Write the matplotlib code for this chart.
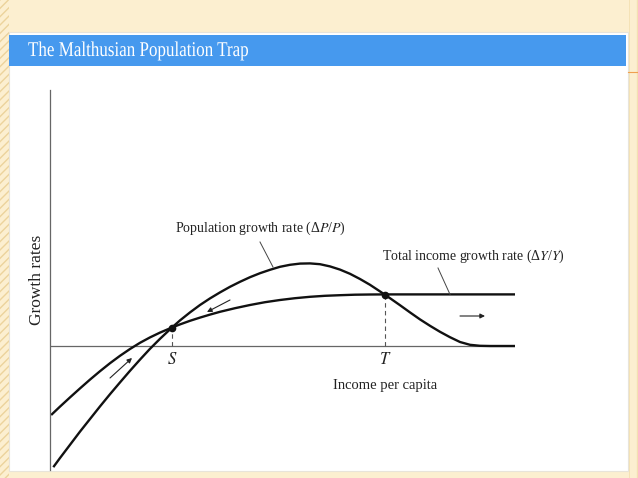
import matplotlib.pyplot as plt
from matplotlib.patches import Rectangle, PathPatch
from matplotlib.textpath import TextPath
from matplotlib.font_manager import FontProperties
from matplotlib.transforms import Affine2D

plt.rcParams['font.family'] = ['Liberation Serif', 'DejaVu Serif']
plt.rcParams['mathtext.fontset'] = 'stix'

# curves (income per capita, growth rate)
income_x = [0.4, 2, 4, 6, 8, 10, 12, 14, 16, 18, 20, 22, 24.4, 26, 28, 30, 32, 34, 37, 40, 43,
            46, 49, 52, 55, 58, 61, 64, 67, 80, 93]
income_y = [-3.41, -3.03, -2.57, -2.12, -1.68, -1.26, -0.86, -0.49, -0.15, 0.16, 0.43, 0.67, 0.925,
            1.08, 1.26, 1.42, 1.57, 1.71, 1.89, 2.05, 2.19, 2.3, 2.39, 2.46, 2.51, 2.54, 2.565,
            2.575, 2.58, 2.58, 2.58]

pop_x = [0.8, 2, 4, 6, 8, 10, 12, 14, 16, 18, 20, 22, 24.4, 26, 28, 30, 32, 34, 36, 38, 40, 42,
         44, 46, 48, 50, 52, 54, 56, 58, 60, 62, 64, 66, 68, 70, 72, 74, 76, 78, 80, 82, 84, 86,
         88, 93]
pop_y = [-6.01, -5.6, -4.94, -4.28, -3.65, -3.02, -2.41, -1.82, -1.24, -0.68, -0.14, 0.36, 0.925,
         1.28, 1.68, 2.05, 2.38, 2.68, 2.96, 3.21, 3.44, 3.64, 3.81, 3.96, 4.06, 4.12, 4.13,
         4.09, 3.98, 3.82, 3.61, 3.35, 3.06, 2.73, 2.39, 2.04, 1.68, 1.33, 1.01, 0.71, 0.44,
         0.2, 0.06, 0.01, 0.0, 0.0]

# equilibrium points
eq_names = ['S', 'T']
eq_x = [24.4, 67]
eq_y = [0.925, 2.57]

W, H = 638, 478
fig = plt.figure(figsize=(W / 100, H / 100), dpi=100)
fig.patch.set_facecolor('#fcefd0')

# slide decoration, in pixels
bg = fig.add_axes([0, 0, 1, 1])
bg.set_xlim(0, W)
bg.set_ylim(H, 0)
bg.axis('off')
bg.add_patch(Rectangle((0, 0), 9, H, facecolor='#fcefd0', edgecolor='#ecd39c', hatch='////', lw=0))
bg.add_patch(Rectangle((629, 0), 9, H, facecolor='#fcefd0', edgecolor='#f3e0b2', hatch='||', lw=0))
bg.add_patch(Rectangle((9, 32), 619, 439, facecolor='white', edgecolor='#e8e4da', lw=0.8))
bg.add_patch(Rectangle((9, 35), 617, 31, facecolor='#4699ee', lw=0))
bg.plot([628, 638], [72, 72], color='#f0a050', lw=0.8)

# condensed title: squeeze the glyph outlines sideways
title = TextPath((0, 0), 'The Malthusian Population Trap', size=21,
                 prop=FontProperties(family='Liberation Serif'))
title = Affine2D().scale(0.81, -1).translate(28, 56).transform_path(title)
bg.add_patch(PathPatch(title, facecolor='white', lw=0))

bg.text(37, 280, 'Growth rates', rotation=90, ha='center', va='center', fontsize=12.5, color='#222')

# the chart itself
ax = fig.add_axes([50 / W, (H - 470) / H, 465 / W, 380 / H])
ax.set_facecolor('none')
ax.set_xlim(0, 93)
ax.set_ylim(-6.2, 12.8)
for side in ['top', 'right', 'bottom']:
    ax.spines[side].set_visible(False)
ax.spines['left'].set_color('#666')
ax.spines['left'].set_linewidth(0.9)
ax.set_xticks([])
ax.set_yticks([])
ax.axhline(0, color='#666', lw=0.9)

ax.plot(income_x, income_y, color='#111', lw=1.7)
ax.plot(pop_x, pop_y, color='#111', lw=1.7)

for name, x, y in zip(eq_names, eq_x, eq_y):
    ax.plot([x, x], [0, y], color='#555', lw=0.8, ls=(0, (4, 3)))
    ax.plot(x, y, 'o', color='#111', ms=4.5)
    ax.text(x, -0.7, '$' + name + '$', ha='center', va='center', fontsize=12, color='#222')

ax.text(25, 5.9, 'Population growth rate (Δ$P$/$P$)', va='center', fontsize=10, color='#222')
ax.plot([42, 44.6], [5.2, 3.95], color='#444', lw=0.7)
ax.text(66.4, 4.5, 'Total income growth rate (Δ$Y$/$Y$)', va='center', fontsize=10, color='#222')
ax.plot([77.6, 80], [3.9, 2.58], color='#444', lw=0.7)
ax.text(67, -1.95, 'Income per capita', ha='center', va='center', fontsize=10.5, color='#222')

arrow = dict(arrowstyle='-|>', color='#222', lw=0.8, mutation_scale=7, shrinkA=0, shrinkB=0)
ax.annotate('', xy=(16.4, -0.6), xytext=(12, -1.6), arrowprops=arrow)
ax.annotate('', xy=(31.4, 1.7), xytext=(36, 2.3), arrowprops=arrow)
ax.annotate('', xy=(87, 1.5), xytext=(82, 1.5), arrowprops=arrow)

fig.savefig('out.png', dpi=100, facecolor=fig.get_facecolor())
